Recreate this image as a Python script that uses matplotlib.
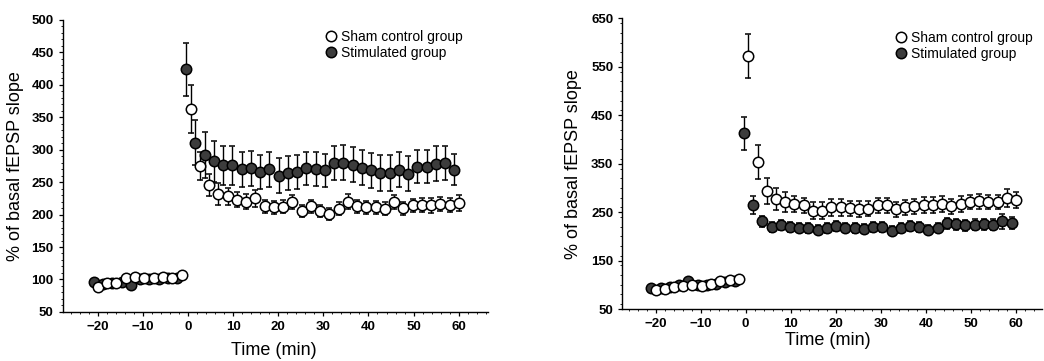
import matplotlib
matplotlib.use("Agg")
import matplotlib.pyplot as plt
from matplotlib.lines import Line2D
from matplotlib.ticker import MultipleLocator

# time points (min)
t_sham_base = [-20.0, -17.9, -15.9, -13.8, -11.8, -9.7, -7.6, -5.6, -3.5, -1.4]
t_stim_base = [-20.9, -18.8, -16.8, -14.7, -12.7, -10.6, -8.6, -6.5, -4.5, -2.4]
t_sham_post = [0.6, 2.65, 4.7, 6.75, 8.8, 10.85, 12.9, 14.95, 17.0, 19.05,
               21.1, 23.15, 25.2, 27.25, 29.3, 31.35, 33.4, 35.45, 37.5, 39.55,
               41.6, 43.65, 45.7, 47.75, 49.8, 51.85, 53.9, 55.95, 58.0, 60.05]
t_stim_post = [-0.4, 1.65, 3.7, 5.75, 7.8, 9.85, 11.9, 13.95, 16.0, 18.05,
               20.1, 22.15, 24.2, 26.25, 28.3, 30.35, 32.4, 34.45, 36.5, 38.55,
               40.6, 42.65, 44.7, 46.75, 48.8, 50.85, 52.9, 54.95, 57.0, 59.05]

# panel A
a_sham_base = [89, 95, 95, 102, 104, 102, 103, 104, 102, 107]
a_stim_base = [96, 93, 95, 96, 92, 101, 100, 101, 102, 103]
a_sham_post = [363, 275, 245, 231, 228, 223, 220, 225, 213, 211,
               212, 219, 206, 213, 206, 201, 209, 220, 213, 211,
               211, 209, 219, 210, 214, 215, 214, 216, 215, 218]
a_sham_err = [37, 22, 17, 17, 13, 12, 11, 13, 10, 10,
              10, 11, 9, 10, 9, 9, 10, 11, 10, 10,
              10, 10, 11, 10, 10, 11, 11, 11, 11, 12]
a_stim_post = [424, 311, 292, 282, 276, 276, 270, 271, 266, 270,
               260, 264, 265, 271, 270, 268, 279, 280, 277, 272,
               268, 264, 264, 269, 263, 274, 274, 278, 280, 269]
a_stim_err = [41, 35, 35, 32, 30, 30, 27, 27, 26, 27,
              27, 26, 26, 25, 26, 26, 26, 27, 27, 27,
              27, 27, 27, 27, 27, 26, 26, 27, 26, 24]

# panel B
b_sham_base = [90, 91, 95, 98, 100, 98, 102, 107, 109, 112]
b_stim_base = [93, 94, 96, 100, 108, 100, 99, 102, 105, 108]
b_sham_post = [572, 353, 293, 277, 271, 267, 264, 253, 253, 260,
               260, 258, 257, 257, 264, 264, 256, 260, 262, 265,
               265, 267, 262, 267, 271, 272, 271, 271, 279, 275]
b_sham_err = [46, 35, 27, 22, 20, 17, 15, 18, 17, 17,
              17, 16, 16, 15, 15, 15, 15, 15, 15, 16,
              17, 17, 16, 16, 15, 15, 15, 15, 18, 16]
b_stim_post = [413, 265, 231, 220, 223, 220, 218, 217, 214, 217,
               222, 218, 217, 216, 219, 220, 212, 217, 222, 220,
               214, 218, 227, 225, 223, 224, 225, 224, 231, 227]
b_stim_err = [34, 18, 12, 10, 10, 10, 10, 10, 10, 10,
              10, 10, 10, 10, 10, 10, 10, 10, 10, 10,
              10, 10, 11, 11, 11, 11, 11, 11, 15, 12]

plt.rcParams['font.family'] = ['Liberation Sans Narrow', 'Liberation Sans', 'DejaVu Sans']

fig = plt.figure(figsize=(10.44, 3.61), dpi=100)
ax1 = fig.add_axes([0.060, 0.136, 0.407, 0.809])
ax2 = fig.add_axes([0.596, 0.144, 0.402, 0.805])

stim_color = "#3c3c3c"
label_font = ['Liberation Sans', 'DejaVu Sans']


def draw(ax, sham_base, stim_base, sham_post, sham_err, stim_post, stim_err):
    common = dict(linestyle="none", marker="o", markersize=7.5, markeredgewidth=1.1,
                  markeredgecolor="black", ecolor="black", elinewidth=1.0,
                  capsize=2, capthick=1.0)
    ax.errorbar(t_stim_base, stim_base, markerfacecolor=stim_color, **common)
    ax.errorbar(t_stim_post, stim_post, yerr=stim_err, markerfacecolor=stim_color, **common)
    ax.errorbar(t_sham_base, sham_base, markerfacecolor="white", **common)
    ax.errorbar(t_sham_post, sham_post, yerr=sham_err, markerfacecolor="white", **common)

    for s in ["top", "right"]:
        ax.spines[s].set_visible(False)
    ax.spines["left"].set_linewidth(1.0)
    ax.spines["bottom"].set_linewidth(1.0)
    ax.set_xticks([-20, -10, 0, 10, 20, 30, 40, 50, 60])
    ax.set_xticklabels(["\u221220", "\u221210", "0", "10", "20", "30", "40", "50", "60"])
    ax.xaxis.set_minor_locator(MultipleLocator(2))
    ax.tick_params(which="major", direction="out", length=3, width=0.9,
                   labelsize=9.5)
    ax.tick_params(which="minor", direction="out", length=1.5, width=0.6)
    ax.set_xlabel("Time (min)", fontsize=13, family=label_font)
    ax.set_ylabel("% of basal fEPSP slope", fontsize=13, family=label_font)

    handles = [Line2D([], [], linestyle="none", marker="o", markersize=7.5,
                      markerfacecolor="white", markeredgecolor="black", markeredgewidth=1.1),
               Line2D([], [], linestyle="none", marker="o", markersize=7.5,
                      markerfacecolor=stim_color, markeredgecolor="black", markeredgewidth=1.1)]
    return handles


h = draw(ax1, a_sham_base, a_stim_base, a_sham_post, a_sham_err, a_stim_post, a_stim_err)
ax1.set_xlim(-27.8, 66.4)
ax1.set_ylim(50, 500)
ax1.set_yticks(range(50, 501, 50))
ax1.yaxis.set_minor_locator(MultipleLocator(10))
ax1.yaxis.set_label_coords(-0.092, 0.5)
ax1.xaxis.set_label_coords(0.496, -0.104)
ax1.legend(h, ["Sham control group", "Stimulated group"], loc="upper left",
           bbox_to_anchor=(0.602, 0.99), frameon=False,
           handlelength=0.8, handletextpad=0.35, labelspacing=0.15, borderpad=0,
           prop={'family': label_font, 'size': 10})

h = draw(ax2, b_sham_base, b_stim_base, b_sham_post, b_sham_err, b_stim_post, b_stim_err)
ax2.set_xlim(-27.4, 65.8)
ax2.set_ylim(50, 650)
ax2.set_yticks([50, 150, 250, 350, 450, 550, 650])
ax2.yaxis.set_minor_locator(MultipleLocator(20))
ax2.yaxis.set_label_coords(-0.095, 0.5)
ax2.xaxis.set_label_coords(0.49, -0.08)
ax2.legend(h, ["Sham control group", "Stimulated group"], loc="upper left",
           bbox_to_anchor=(0.634, 0.98), frameon=False,
           handlelength=0.8, handletextpad=0.35, labelspacing=0.15, borderpad=0,
           prop={'family': label_font, 'size': 10})

for ax in (ax1, ax2):
    for lab in ax.get_xticklabels() + ax.get_yticklabels():
        lab.set_fontweight("bold")

fig.savefig("out.png", dpi=100)
